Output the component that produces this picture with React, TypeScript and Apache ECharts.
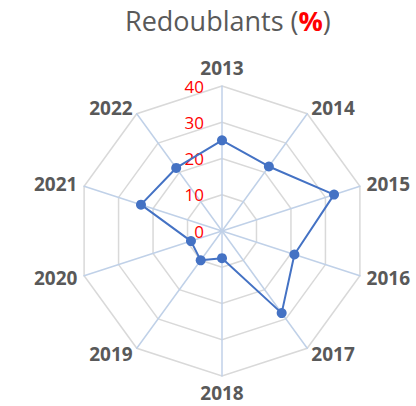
import React, { useEffect, useRef } from "react";
import * as echarts from "echarts";

const categories = ["2013", "2014", "2015", "2016", "2017", "2018", "2019", "2020", "2021", "2022"];
const values = [25, 22, 32.5, 21, 28, 7.5, 10, 9, 23.5, 21.5];
const axisMax = 40;
const titleParts = ["Redoublants (", "%", ")"];

export default function App() {
  const ref = useRef<HTMLDivElement>(null);
  useEffect(() => {
    if (!ref.current) return;
    const chart = echarts.init(ref.current, null, { renderer: "svg" });
    // ECharts radar runs counter-clockwise: reorder so the years run clockwise
    const order = [0, ...categories.map((_, i) => i).slice(1).reverse()];
    chart.setOption({
      animation: false,
      backgroundColor: "#ffffff",
      title: {
        text: `{g|${titleParts[0]}}{r|${titleParts[1]}}{g|${titleParts[2]}}`,
        left: 120,
        top: 2,
        textStyle: {
          rich: {
            g: { fontFamily: "Open Sans", fontSize: 27, color: "#595959", fontWeight: "normal" },
            r: { fontFamily: "Open Sans", fontSize: 27, color: "#ff0000", fontWeight: "bold" },
          },
        },
      },
      radar: {
        center: [222, 231],
        radius: 145,
        startAngle: 90,
        shape: "polygon",
        splitNumber: 4,
        nameGap: 7,
        axisName: {
          color: "#595959",
          fontFamily: "Open Sans",
          fontWeight: "bold",
          fontSize: 19,
        },
        indicator: order.map((idx, i) =>
          i === 0
            ? {
                name: categories[idx],
                min: 0,
                max: axisMax,
                axisLabel: {
                  show: true,
                  color: "#ff0000",
                  fontFamily: "Open Sans",
                  fontSize: 17,
                  margin: 18,
                  showMinLabel: true,
                },
              }
            : { name: categories[idx], min: 0, max: axisMax }
        ),
        axisLabel: { show: false },
        axisLine: { lineStyle: { color: "#c0d1e8", width: 1.5 } },
        splitLine: { lineStyle: { color: "#d9d9d9", width: 1.5 } },
        splitArea: { show: false },
      },
      series: [
        {
          type: "radar",
          symbol: "circle",
          symbolSize: 10,
          lineStyle: { color: "#4472c4", width: 2 },
          itemStyle: { color: "#4472c4" },
          data: [{ value: order.map((idx) => values[idx]), name: "Redoublants" }],
        },
      ],
    });
    return () => chart.dispose();
  }, []);
  return <div ref={ref} style={{ position: "fixed", left: 0, top: 0, width: 416, height: 406 }} />;
}
